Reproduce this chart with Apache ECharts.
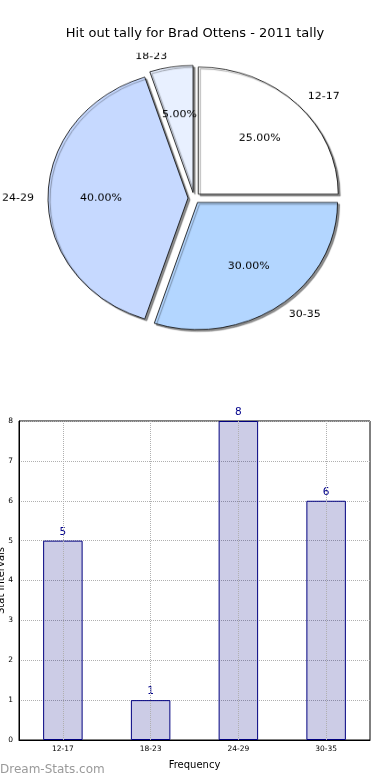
<!DOCTYPE html>
<html><head><meta charset="utf-8">
<script src="https://cdn.jsdelivr.net/npm/echarts@6/dist/echarts.min.js"></script>
<style>
html,body{margin:0;padding:0;background:#fff;width:390px;height:780px;overflow:hidden}
#main{position:absolute;left:0;top:0;width:390px;height:780px}
#pie{position:absolute;left:0;top:38px;width:390px;height:320px;transform:scaleY(0.908);transform-origin:50% 50%}
</style></head><body>
<div id="main"></div><div id="pie"></div>
<script>
const titleText = 'Hit out tally for Brad Ottens - 2011 tally';
const categories = ['12-17', '18-23', '24-29', '30-35'];
const frequencies = [5, 1, 8, 6];
const pieColors = ['#ffffff', '#e8f0ff', '#c6d9ff', '#b3d6ff'];
const yMin = 0, yMax = 8, yStep = 1;
const xAxisName = 'Frequency';
const yAxisName = 'Stat Intervals';
const watermark = 'Dream-Stats.com';

const FONT = 'DejaVu Sans';

const main = echarts.init(document.getElementById('main'), null, {renderer: 'canvas'});
main.setOption({
  animation: false,
  title: {
    text: titleText, left: 'center', top: 22,
    textStyle: {fontFamily: FONT, fontSize: 13, fontWeight: 'normal', color: '#000'}
  },
  grid: {left: 19, right: 20, top: 421, bottom: 40, containLabel: false, outerBoundsMode: 'none',
         show: true, borderColor: '#000', borderWidth: 1, backgroundColor: 'transparent'},
  xAxis: {
    type: 'category', data: categories,
    name: xAxisName, nameLocation: 'middle', nameGap: 20, nameMoveOverlap: false,
    nameTextStyle: {fontFamily: FONT, fontSize: 10, color: '#000'},
    axisLine: {lineStyle: {color: '#000', width: 1}},
    axisTick: {show: false},
    axisLabel: {fontFamily: FONT, fontSize: 7.5, color: '#000', margin: 5},
    splitLine: {show: false}
  },
  yAxis: {
    type: 'value', min: yMin, max: yMax, interval: yStep,
    name: yAxisName, nameLocation: 'middle', nameGap: 13, nameMoveOverlap: false,
    nameTextStyle: {fontFamily: FONT, fontSize: 10, color: '#000'},
    axisLine: {show: true, lineStyle: {color: '#000', width: 1}},
    axisTick: {show: false},
    axisLabel: {fontFamily: FONT, fontSize: 7.5, color: '#000', margin: 6},
    splitLine: {show: true, lineStyle: {color: '#b0b0b0', type: 'dotted', width: 1}}
  },
  series: [{
    type: 'bar', data: frequencies, barWidth: '45%',
    itemStyle: {color: 'rgba(0,0,128,0.2)', borderColor: '#000080', borderWidth: 1},
    label: {show: true, position: 'top', distance: 3, fontFamily: FONT, fontSize: 10.5, color: '#00008b'},
    emphasis: {disabled: true},
    markLine: {
      silent: true, symbol: 'none', label: {show: false},
      lineStyle: {color: '#b0b0b0', type: 'dotted', width: 1},
      data: categories.map(c => ({xAxis: c}))
    }
  }],
  graphic: [{
    type: 'text', left: 0, top: 764,
    style: {text: watermark, fontFamily: FONT, fontSize: 12, fontWeight: 'normal', fill: '#9a9a9a'}
  }]
});

const pie = echarts.init(document.getElementById('pie'), null, {renderer: 'canvas'});
const pieData = categories.map((c, i) => ({name: c, value: frequencies[i], selected: true, itemStyle: {color: pieColors[i]}}));
pie.setOption({
  animation: false,
  series: [{
    type: 'pie', center: [194, 160], radius: 140, startAngle: 0, clockwise: false,
    selectedMode: 'multiple', selectedOffset: 6,
    data: pieData,
    itemStyle: {borderColor: '#000', borderWidth: 0.8, shadowColor: 'rgba(0,0,0,0.45)', shadowBlur: 1, shadowOffsetX: 2, shadowOffsetY: 2},
    label: {show: true, position: 'outside', formatter: '{b}', fontFamily: FONT, fontSize: 11, color: '#000',
            distanceToLabelLine: 2, overflow: 'none', alignTo: 'none'},
    labelLine: {show: false, length: 12, length2: 0},
    emphasis: {disabled: true},
    select: {itemStyle: {borderColor: '#000', borderWidth: 0.8}},
    silent: true
  }, {
    type: 'pie', center: [194, 160], radius: 168, startAngle: 0, clockwise: false,
    selectedMode: 'multiple', selectedOffset: 6,
    data: categories.map((c, i) => ({name: c, value: frequencies[i], selected: true})),
    itemStyle: {color: 'rgba(0,0,0,0)', borderWidth: 0},
    label: {show: true, position: 'inside', formatter: p => p.percent.toFixed(2) + '%',
            fontFamily: FONT, fontSize: 11, color: '#000', overflow: 'none'},
    labelLine: {show: false},
    emphasis: {disabled: true},
    select: {itemStyle: {color: 'rgba(0,0,0,0)', borderWidth: 0}},
    silent: true
  }]
});
</script>
</body></html>
